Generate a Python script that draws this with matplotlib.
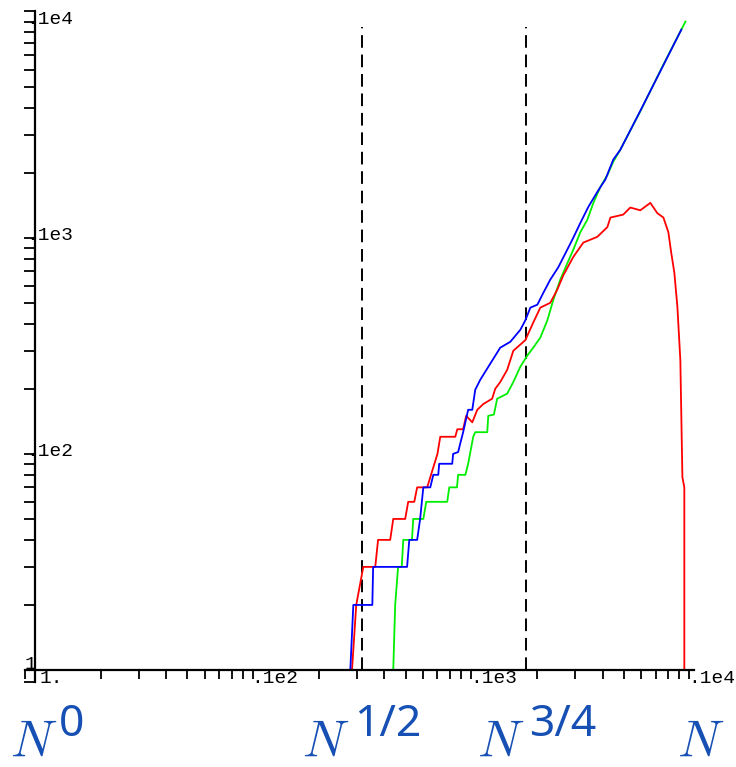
import numpy as np
import matplotlib
matplotlib.use('Agg')
import matplotlib.pyplot as plt

plt.rcParams['mathtext.fontset'] = 'cm'

# data
blue_x = [10, 279, 288, 352, 355, 508, 520, 565, 583, 603, 649, 670, 706, 713, 818, 826, 871, 891, 918,
          968, 1011, 1043, 1099, 1358, 1510, 1679, 1770, 1866, 2009, 2138, 2303, 2506, 2754, 2936,
          3162, 3443, 3784, 4120, 4478, 4820, 5960, 7300, 9190]
blue_y = [10, 10, 20, 20, 30, 30, 40, 40, 50, 70, 70, 80, 80, 90, 90, 100, 102, 112, 126,
          160, 160, 198, 220, 310, 330, 375, 415, 475, 490, 555, 640, 730, 880, 1000,
          1170, 1390, 1630, 1860, 2300, 2550, 3870, 5800, 9190]

red_x = [10, 284, 297, 320, 363, 374, 425, 439, 498, 514, 548, 565, 628, 700, 721, 845, 863, 918,
         948, 1011, 1066, 1135, 1247, 1288, 1358, 1462, 1559, 1770, 1924, 2073, 2303, 2479, 2642,
         2936, 3265, 3784, 4207, 4345, 4977, 5358, 5957, 6622, 7128, 7603, 8011, 8260, 8531,
         8810, 9090, 9290, 9480, 9480]
red_y = [10, 10, 20, 30, 30, 40, 40, 50, 50, 60, 60, 70, 70, 100, 120, 120, 130, 130,
         150, 140, 160, 170, 180, 200, 215, 245, 300, 336, 405, 475, 500, 575, 670,
         815, 950, 1010, 1120, 1240, 1280, 1380, 1340, 1450, 1300, 1240, 1060, 850, 690,
         480, 272, 78, 70, 10]

green_x = [10, 439, 448, 462, 480, 488, 535, 542, 603, 622, 776, 793, 860, 871, 940, 968, 1021,
           1043, 1184, 1197, 1270, 1315, 1462, 1559, 1679, 1807, 1924, 2073, 2233, 2377, 2559,
           2754, 2936, 3162, 3404, 3630, 3908, 4207, 4478, 4820, 6000, 7400, 9590]
green_y = [10, 10, 20, 30, 30, 40, 40, 50, 50, 60, 60, 70, 70, 80, 80, 90, 120,
           126, 126, 150, 152, 180, 190, 215, 253, 285, 310, 345, 415, 515, 640,
           760, 880, 1060, 1210, 1450, 1720, 1950, 2250, 2550, 3900, 6000, 10000]

dash_x = [10**2.5, 10**3.25]
x_labels = ['1.', '.1e2', '.1e3', '.1e4']
x_label_pos = [10, 100, 1000, 10000]
y_labels = ['1', '.1e2', '.1e3', '.1e4']
y_label_pos = [10, 100, 1000, 10000]
n_sups = ['0', '1/2', '3/4', '']
n_left_px = [10, 302, 477, 677]
sup_left_px = [59, 354, 529, 0]

W, H = 736, 767
fig = plt.figure(figsize=(W / 100, H / 100), dpi=100)
ax = fig.add_axes([25 / W, (H - 682) / H, 669 / W, 671 / H])
ax.set_xscale('log')
ax.set_yscale('log')
xlo, xhi = 9.0, 1.05e4
ylo, yhi = 8.8, 1.12e4
ax.set_xlim(xlo, xhi)
ax.set_ylim(ylo, yhi)

ax.plot(green_x, green_y, color='#00ee00', lw=1.3, zorder=2)
ax.plot(red_x, red_y, color='#ff0000', lw=1.3, zorder=2)
ax.plot(blue_x, blue_y, color='#0000ff', lw=1.3, zorder=2.1)
ax.vlines(dash_x, 10, 9400, colors='black', lw=1.4, linestyles=(0, (6.5, 3.5)), zorder=1)

for s in ['top', 'right']:
    ax.spines[s].set_visible(False)
ax.spines['left'].set_position(('data', 10))
ax.spines['bottom'].set_position(('data', 10))
for s in ['left', 'bottom']:
    ax.spines[s].set_linewidth(1.6)
    ax.spines[s].set_zorder(3)

minor = [m * 10**e for e in range(1, 4) for m in range(2, 10)]
ax.set_xticks([xlo, 10, 100, 1000, 10000])
ax.set_xticks(minor, minor=True)
ax.set_yticks([ylo, 10, 100, 1000, 10000, yhi])
ax.set_yticks(minor, minor=True)
ax.tick_params(axis='x', which='both', direction='out', length=6.5, width=1.3, labelbottom=False)
ax.tick_params(axis='y', which='both', direction='out', length=8, width=1.3, labelleft=False)

for lab, xv in zip(x_labels, x_label_pos):
    dx = 3.5 if lab == '1.' else -1
    ax.annotate(lab, (xv, 10), xytext=(dx, -9.5), textcoords='offset points',
                ha='left', va='baseline', fontsize=14, family='Liberation Mono', clip_on=False)
for lab, yv in zip(y_labels, y_label_pos):
    if lab == '1':
        ax.annotate(lab, (10, yv), xytext=(-7.5, 0.5), textcoords='offset points',
                    ha='left', va='baseline', fontsize=14, family='Liberation Mono')
    else:
        ax.annotate(lab, (10, yv), xytext=(-6.5, -1.5), textcoords='offset points',
                    ha='left', va='baseline', fontsize=14, family='Liberation Mono')

ncol = '#1650b4'
for sup, px, sx in zip(n_sups, n_left_px, sup_left_px):
    fig.text(px / W, 1 - 757 / H, r'$N$', ha='left', va='baseline', fontsize=37, color=ncol)
    if sup:
        fig.text(sx / W, 1 - 736 / H, sup, ha='left', va='baseline',
                 fontsize=32, color=ncol, family='Noto Sans')

fig.savefig('out.png', dpi=100)
